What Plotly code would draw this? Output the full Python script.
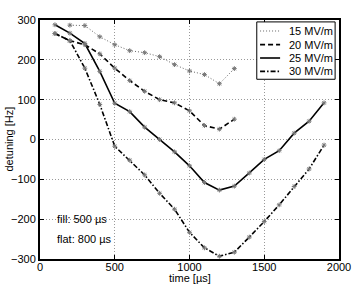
import plotly.graph_objects as go

t_15 = [200, 300, 400, 500, 600, 700, 800, 900, 1000, 1100, 1200, 1300]
d_15 = [287, 286, 258, 238, 223, 218, 208, 188, 172, 163, 140, 178]

t_20 = [100, 200, 300, 400, 500, 600, 700, 800, 900, 1000, 1100, 1200, 1300]
d_20 = [266, 248, 238, 215, 179, 148, 121, 100, 92, 72, 35, 26, 51]

t_25 = [100, 200, 300, 400, 500, 600, 700, 800, 900, 1000, 1100, 1200, 1300,
        1400, 1500, 1600, 1700, 1800, 1900]
d_25 = [288, 267, 241, 171, 91, 70, 31, 0, -31, -66, -108, -127, -117,
        -84, -50, -28, 16, 46, 92]

t_30 = t_25
d_30 = [266, 248, 179, 88, -17, -52, -89, -135, -175, -233, -272, -293, -283,
        -245, -206, -164, -118, -74, -14]

names = ["15 MV/m", "20 MV/m", "25 MV/m", "30 MV/m"]
x_ticks = [0, 500, 1000, 1500, 2000]
y_ticks = [-300, -200, -100, 0, 100, 200, 300]
y_ticklabels = ["\u2212300", "\u2212200", "\u2212100", "0", "100", "200", "300"]

FONT = "Liberation Sans, Arial, Helvetica, sans-serif"
marker = dict(symbol="asterisk-open", size=4, color="#777777",
              line=dict(width=1, color="#777777"))

line_styles = [
    dict(color="#666666", width=1, dash="1px,2px"),
    dict(color="black", width=1.6, dash="5px,3px"),
    dict(color="black", width=1.6, dash="solid"),
    dict(color="black", width=1.6, dash="5px,2px,1.5px,2px"),
]
series = [(t_15, d_15), (t_20, d_20), (t_25, d_25), (t_30, d_30)]

fig = go.Figure()
for (tx, dy), ln, nm in zip(series, line_styles, names):
    fig.add_trace(go.Scatter(x=tx, y=dy, mode="lines", name=nm, line=ln,
                             showlegend=False, hoverinfo="skip"))
for (tx, dy), nm in zip(series, names):
    fig.add_trace(go.Scatter(x=tx, y=dy, mode="markers", name=nm,
                             marker=marker, showlegend=False,
                             hoverinfo="skip"))

# legend box (drawn in paper coordinates, compact like the original)
fig.add_shape(type="rect", xref="paper", yref="paper",
              x0=0.725, x1=0.987, y0=0.752, y1=0.992,
              line=dict(color="black", width=1), fillcolor="white")
row_y = [0.954, 0.897, 0.841, 0.785]
for ry, ln, nm in zip(row_y, line_styles, names):
    fig.add_shape(type="line", xref="paper", yref="paper",
                  x0=0.736, x1=0.803, y0=ry, y1=ry, line=ln)
    fig.add_annotation(x=0.826, y=ry, xref="paper", yref="paper", text=nm,
                       showarrow=False, xanchor="left", yanchor="middle",
                       font=dict(family=FONT, size=11, color="black"))

fig.add_annotation(x=100, y=-200, xref="x", yref="y", text="fill: 500 \u00b5s",
                   showarrow=False, xanchor="left", yanchor="middle",
                   font=dict(family=FONT, size=11, color="black"))
fig.add_annotation(x=100, y=-250, xref="x", yref="y", text="flat: 800 \u00b5s",
                   showarrow=False, xanchor="left", yanchor="middle",
                   font=dict(family=FONT, size=11, color="black"))
fig.add_annotation(x=0.5, y=-0.0795, xref="paper", yref="paper",
                   text="time [\u00b5s]", showarrow=False,
                   xanchor="center", yanchor="middle",
                   font=dict(family=FONT, size=11, color="black"))
fig.add_annotation(x=-0.107, y=0.5, xref="paper", yref="paper",
                   text="detuning [Hz]", showarrow=False, textangle=-90,
                   xanchor="center", yanchor="middle",
                   font=dict(family=FONT, size=11, color="black"))

axis_common = dict(
    showline=True, linecolor="black", linewidth=2, mirror="allticks",
    ticks="inside", ticklen=4, tickcolor="black", tickwidth=1,
    showgrid=True, gridcolor="#999999", griddash="1px,2px", gridwidth=1,
    zeroline=False, automargin=False,
    tickfont=dict(family=FONT, size=11, color="black"),
)

fig.update_layout(
    width=354, height=284,
    margin=dict(l=40, r=15, t=20, b=25),
    paper_bgcolor="white", plot_bgcolor="white",
    font=dict(family=FONT, size=11, color="black"),
    xaxis=dict(range=[0, 2000], tickvals=x_ticks, ticklabelstandoff=-3,
               **axis_common),
    yaxis=dict(range=[-300, 300], tickvals=y_ticks, ticktext=y_ticklabels,
               **axis_common),
    showlegend=False,
    hovermode=False,
)

fig.write_html("out.html",
               config={"displayModeBar": False, "staticPlot": True},
               post_script="document.body.style.margin='0px';"
                           "document.body.style.overflow='hidden';")
